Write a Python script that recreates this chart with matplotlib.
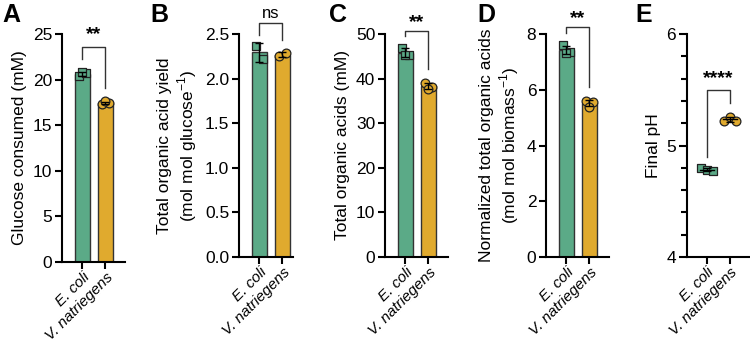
import matplotlib.pyplot as plt
import numpy as np

plt.rcParams['font.family'] = ['Liberation Sans', 'DejaVu Sans']
plt.rcParams['mathtext.fontset'] = 'custom'
plt.rcParams['mathtext.rm'] = 'Liberation Sans'

strains = ['E. coli', 'V. natriegens']

# replicate values
glucose_ecoli = [20.4, 20.7, 20.8]
glucose_vnat = [17.3, 17.4, 17.6]
yield_ecoli = [2.37, 2.22]
yield_vnat = [2.25, 2.29]
acids_ecoli = [46.9, 45.4, 45.2]
acids_vnat = [39.1, 38.2, 37.7]
norm_ecoli = [7.60, 7.37, 7.31]
norm_vnat = [5.60, 5.57, 5.39]
ph_ecoli = [4.80, 4.78, 4.77]
ph_vnat = [5.22, 5.26, 5.22]

green = '#5BAA87'
yellow = '#E0AA2E'
W, H = 750, 348
PX = 23  # px per category unit
FS = 12.5

fig = plt.figure(figsize=(7.5, 3.48), dpi=100)


def make_ax(left, bottom, top, xlim):
    width = (xlim[1] - xlim[0]) * PX
    ax = fig.add_axes([left / W, (H - bottom) / H, width / W, (bottom - top) / H])
    ax.set_xlim(*xlim)
    for s in ['top', 'right']:
        ax.spines[s].set_visible(False)
    for s in ['left', 'bottom']:
        ax.spines[s].set_linewidth(1.5)
    ax.tick_params(width=1.5, length=5, labelsize=FS, pad=2)
    ax.tick_params(axis='x', pad=1)
    ax.set_xticks([0, 1])
    ax.set_xticklabels(strains, rotation=45, ha='right', rotation_mode='anchor',
                       style='italic', fontsize=11)
    return ax


def draw_points(ax, x, vals, marker, color, jit):
    off = np.array(jit[:len(vals)])
    ax.scatter(x + off, vals, marker=marker, s=40, facecolor=color,
               edgecolor='#222222', linewidth=0.9, zorder=4, clip_on=False)


def bar_panel(ax, e, v):
    means = [np.mean(e), np.mean(v)]
    sds = [np.std(e, ddof=1), np.std(v, ddof=1)]
    ax.bar([0, 1], means, width=0.64, color=[green, yellow], edgecolor='#333333',
           linewidth=1, zorder=2)
    draw_points(ax, 0, e, 's', green, [-0.15, 0.15, 0.0])
    draw_points(ax, 1, v, 'o', yellow, [-0.15, 0.15, 0.0])
    ax.errorbar([0, 1], means, yerr=sds, fmt='none', ecolor='black', elinewidth=1,
                capsize=3, capthick=1, zorder=5)


def bracket(ax, top, left_y, right_y, label, label_y, bold=True, size=14):
    ax.plot([0, 0, 1, 1], [left_y, top, top, right_y], color='#333333', lw=1,
            clip_on=False, zorder=6)
    ax.text(0.5, label_y, label, ha='center', va='center', fontsize=size,
            fontweight='bold' if bold else 'normal', clip_on=False)


# A
ax = make_ax(62, 262, 34, (-0.89, 1.85))
bar_panel(ax, glucose_ecoli, glucose_vnat)
ax.set_ylim(0, 25)
ax.set_yticks([0, 5, 10, 15, 20, 25])
ax.set_ylabel('Glucose consumed (mM)', fontsize=FS)
bracket(ax, 23.6, 22.3, 19.1, '**', 24.9)

# B
ax = make_ax(239, 257, 34, (-0.89, 1.45))
bar_panel(ax, yield_ecoli, yield_vnat)
ax.set_ylim(0, 2.5)
ax.set_yticks([0, 0.5, 1.0, 1.5, 2.0, 2.5])
ax.set_yticklabels(['0.0', '0.5', '1.0', '1.5', '2.0', '2.5'])
ax.set_ylabel('Total organic acid yield\n(mol mol glucose$^{\\mathrm{-1}}$)', fontsize=FS)
bracket(ax, 2.62, 2.49, 2.43, 'ns', 2.73, bold=False, size=12)

# C
ax = make_ax(385, 257, 34, (-0.89, 1.85))
bar_panel(ax, acids_ecoli, acids_vnat)
ax.set_ylim(0, 50)
ax.set_yticks([0, 10, 20, 30, 40, 50])
ax.set_ylabel('Total organic acids (mM)', fontsize=FS)
bracket(ax, 50.7, 49.6, 42.2, '**', 52.6)

# D
ax = make_ax(546, 257, 34, (-0.89, 1.85))
bar_panel(ax, norm_ecoli, norm_vnat)
ax.set_ylim(0, 8)
ax.set_yticks([0, 2, 4, 6, 8])
ax.set_ylabel('Normalized total organic acids\n(mol mol biomass$^{\\mathrm{-1}}$)', fontsize=FS)
bracket(ax, 8.26, 8.05, 6.1, '**', 8.55)

# E
ax = make_ax(687, 257, 34, (-0.87, 1.87))
ax.set_ylim(4, 6)
ax.set_yticks([4, 5, 6])
ax.set_yticks(np.arange(4.2, 6.0, 0.2), minor=True)
ax.tick_params(axis='y', which='major', length=6)
ax.tick_params(axis='y', which='minor', length=4, width=1.5)
draw_points(ax, 0, ph_ecoli, 's', green, [-0.25, 0.0, 0.25])
draw_points(ax, 1, ph_vnat, 'o', yellow, [-0.25, 0.0, 0.25])
for i, vals in enumerate([ph_ecoli, ph_vnat]):
    m = np.mean(vals)
    ax.plot([i - 0.3, i + 0.3], [m, m], color='black', lw=1, zorder=5)
    ax.errorbar([i], [m], yerr=[np.std(vals, ddof=1)], fmt='none', ecolor='black',
                elinewidth=1, capsize=3, capthick=1, zorder=5)
ax.set_ylabel('Final pH', fontsize=FS)
bracket(ax, 5.50, 4.90, 5.38, '****', 5.60)

for letter, x in zip('ABCDE', [2, 150, 329, 477, 635]):
    fig.text(x / W, 1 - 22 / H, letter, fontsize=18, fontweight='bold', va='baseline')

fig.savefig('out.png', dpi=100)
